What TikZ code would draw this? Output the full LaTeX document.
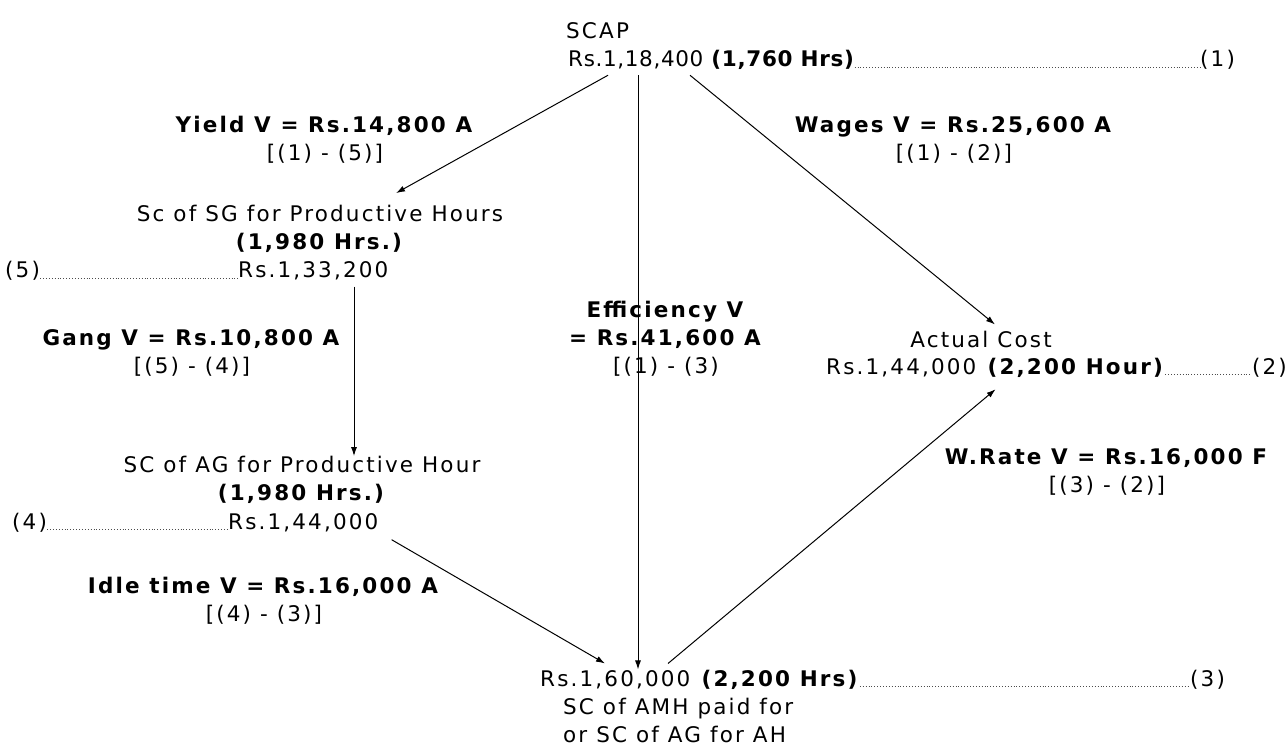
\documentclass[tikz,border=0pt]{standalone}
\usepackage{fontspec}
\setmainfont{DejaVu Sans}[LetterSpace=10]
\usepackage{tikz}
\usetikzlibrary{arrows.meta,positioning,calc}

\begin{document}
\begin{tikzpicture}[
  x=1pt, y=-1pt,
  >=Latex,
  txt/.style={inner sep=0pt, font=\fontsize{21.5}{28}\selectfont},
  var/.style={txt, align=center},
  arr/.style={->, line width=1pt, -{Latex[length=9pt,width=6pt]}},
  dots/.style={dotted, line width=0.9pt, black!70}
]
\useasboundingbox (0,0) rectangle (1287,751);

% standard cost of actual production
\node[txt, anchor=base west] (scaptitle) at (566,39) {SCAP};
\node[txt, anchor=base west] (scapval) at (568,67) {\addfontfeature{LetterSpace=3}Rs.1,18,400 \textbf{(1,760 Hrs)}};
\node[txt, anchor=base west] (ref1) at (1200,67) {(1)};
\draw[dots] (scapval.base east) -- (ref1.base west);

% standard gang, productive hours
\node[var] (sgtitle) at (320,229) {Sc of SG for Productive Hours\\\textbf{(1,980 Hrs.)}};
\node[txt, anchor=base west] (sgval) at (238,278) {Rs.1,33,200};
\node[txt, anchor=base west] (ref5) at (5,278) {(5)};
\draw[dots] (ref5.base east) -- (sgval.base west);

% actual gang, productive hours
\node[var] (agtitle) at (302,480) {SC of AG for Productive Hour\\\textbf{(1,980 Hrs.)}};
\node[txt, anchor=base west] (agval) at (228,529) {Rs.1,44,000};
\node[txt, anchor=base west] (ref4) at (12,529) {(4)};
\draw[dots] (ref4.base east) -- (agval.base west);

% actual hours paid
\node[txt, anchor=base west] (botval) at (540,686) {Rs.1,60,000 \textbf{(2,200 Hrs)}};
\node[txt, anchor=base west] (ref3) at (1190,686) {(3)};
\draw[dots] (botval.base east) -- (ref3.base west);
\node[txt, align=left, anchor=north west] (botnote) at (563,698) {SC of AMH paid for\\or SC of AG for AH};

% actual cost
\node[txt] (actitle) at (981,339) {Actual Cost};
\node[txt, anchor=base west] (acval) at (826,374) {Rs.1,44,000 \textbf{(2,200 Hour)}};
\node[txt, anchor=base east] (ref2) at (1287,374) {(2)};
\draw[dots] (acval.base east) -- (ref2.base west);

% variances
\node[var] (yield) at (325,140) {\textbf{Yield V = Rs.14,800 A}\\{}[(1) - (5)]};
\node[var] (wages) at (954,140) {\textbf{Wages V = Rs.25,600 A}\\{}[(1) - (2)]};
\node[var] (gang) at (192,353) {\textbf{Gang V = Rs.10,800 A}\\{}[(5) - (4)]};
\node[var] (eff) at (666,339) {\textbf{Efficiency V}\\\textbf{= Rs.41,600 A}\\{}[(1) - (3)};
\node[var] (rate) at (1107,472) {\textbf{W.Rate V = Rs.16,000 F}\\{}[(3) - (2)]};
\node[var] (idle) at (264,601) {\textbf{Idle time V = Rs.16,000 A}\\{}[(4) - (3)]};

\coordinate (effs) at ([xshift=70pt,yshift=-5pt]scapval.south west);
\coordinate (gangs) at ([xshift=116pt,yshift=-6pt]sgval.south west);

\draw[arr] ([xshift=40pt,yshift=-5pt]scapval.south west) -- ([xshift=76pt,yshift=12pt]sgtitle.north);
\draw[arr] (effs) -- (effs |- botval.north);
\draw[arr] ([xshift=122pt,yshift=-5pt]scapval.south west) -- ([xshift=14pt,yshift=6pt]actitle.north);
\draw[arr] (gangs) -- (gangs |- agtitle.north);
\draw[arr] ([xshift=13pt,yshift=-8pt]agval.south east) -- ([xshift=65pt,yshift=6pt]botval.north west);
\draw[arr] ([xshift=128pt,yshift=6pt]botval.north west) -- ([xshift=0pt,yshift=-12pt]acval.south);
\end{tikzpicture}
\end{document}
